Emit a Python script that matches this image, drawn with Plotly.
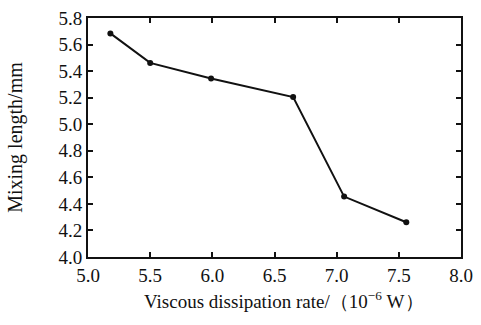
import plotly.graph_objects as go

# Viscous dissipation rate (10^-6 W) vs mixing length (mm)
dissipation_rate = [5.18, 5.50, 5.99, 6.65, 7.06, 7.56]
mixing_length = [5.684, 5.462, 5.344, 5.205, 4.455, 4.262]

x_ticks = [5.0, 5.5, 6.0, 6.5, 7.0, 7.5, 8.0]
y_ticks = [4.0, 4.2, 4.4, 4.6, 4.8, 5.0, 5.2, 5.4, 5.6, 5.8]

x_title = "Viscous dissipation rate/（10<sup>−6</sup> W）"
y_title = "Mixing length/mm"

font_family = "Liberation Serif"
ink = "#111111"

fig = go.Figure(
    go.Scatter(
        x=dissipation_rate,
        y=mixing_length,
        mode="lines+markers",
        line=dict(color=ink, width=2),
        marker=dict(color=ink, size=6),
        cliponaxis=False,
    )
)

axis_common = dict(
    showgrid=False,
    zeroline=False,
    showline=True,
    linecolor=ink,
    linewidth=2,
    mirror="ticks",
    ticks="inside",
    ticklen=5,
    tickwidth=1.5,
    tickcolor=ink,
    ticklabeloverflow="allow",
    tickfont=dict(family=font_family, size=19, color=ink),
)

fig.update_xaxes(
    range=[5.0, 8.0],
    tickvals=x_ticks,
    ticktext=[f"{v:.1f}" for v in x_ticks],
    **axis_common,
)
fig.update_yaxes(
    range=[4.0, 5.8],
    tickvals=y_ticks,
    ticktext=[f"{v:.1f}" for v in y_ticks],
    title=dict(
        text=y_title,
        font=dict(family=font_family, size=20, color=ink),
        standoff=30,
    ),
    **axis_common,
)

# x-axis title placed as an annotation below the tick labels
fig.add_annotation(
    text=x_title,
    xref="paper", yref="paper",
    x=0.5, y=0,
    xanchor="center", yanchor="middle",
    xshift=9, yshift=-43,
    showarrow=False,
    font=dict(family=font_family, size=19, color=ink),
)

fig.update_layout(
    width=481,
    height=325,
    margin=dict(l=88, r=15, t=8, b=68),
    paper_bgcolor="white",
    plot_bgcolor="white",
    showlegend=False,
)

fig.write_html("out.html")
